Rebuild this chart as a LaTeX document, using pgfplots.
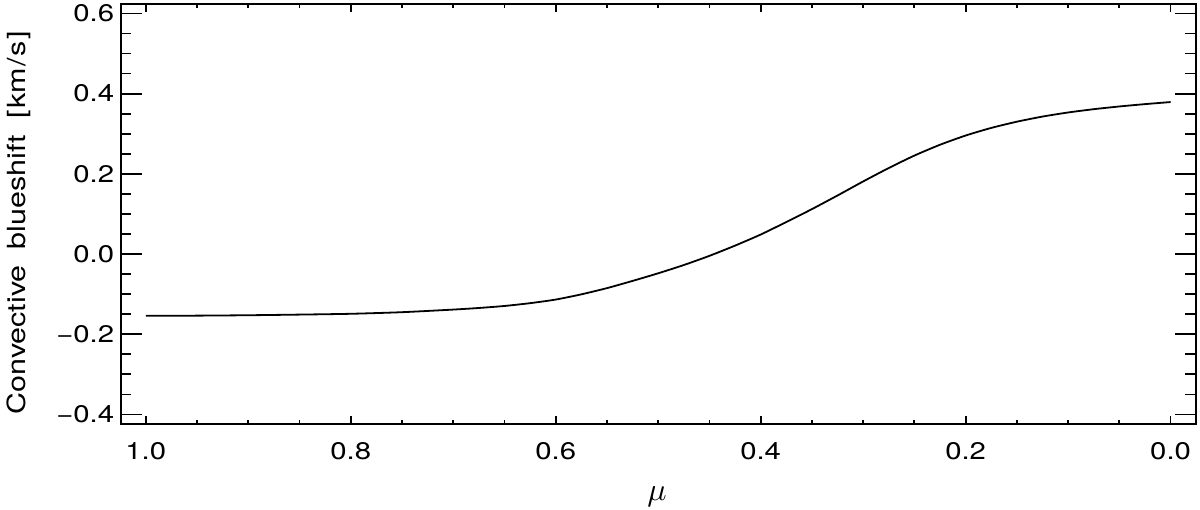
\documentclass[border=0pt]{standalone}
\usepackage{pgfplots}
\pgfplotsset{compat=1.18}
\usepackage{fontspec}
\setmainfont{TeX Gyre Heros}[FakeStretch=1.22]
\begin{document}
\begin{tikzpicture}
\begin{axis}[
  at={(0,0)}, anchor=south west,
  scale only axis,
  width=1075pt, height=420pt,
  x dir=reverse,
  xmin=-0.0245, xmax=1.0245,
  ymin=-0.4238, ymax=0.6235,
  xtick={0,0.2,0.4,0.6,0.8,1.0},
  xticklabels={0.0,0.2,0.4,0.6,0.8,1.0},
  ytick={-0.4,-0.2,0,0.2,0.4,0.6},
  yticklabels={−0.4,−0.2,0.0,0.2,0.4,0.6},
  minor tick num=3,
  tick align=inside,
  xtick pos=both, ytick pos=both,
  axis line style={line width=1.8pt},
  every tick/.style={black, line width=1.8pt},
  xtick style={/pgfplots/major tick length=8pt,/pgfplots/minor tick length=4pt},
  ytick style={/pgfplots/major tick length=21pt,/pgfplots/minor tick length=10.5pt},
  tick label style={font=\fontsize{24}{28}\selectfont},
  xticklabel style={yshift=-15pt},
  yticklabel style={xshift=-3pt},
  every axis x label/.style={at={(axis description cs:0.4989,-0.181)}, anchor=base},
  every axis y label/.style={at={(axis description cs:-0.0890,0.4798)}, rotate=90, anchor=base},
  xlabel={\scalebox{3.2}{$\mu$}},
  ylabel={\fontsize{25}{30}\selectfont Convective\hspace{0.3em} blueshift\hspace{0.3em} [\kern2pt km\kern1.5pt/\kern1.5pt s\kern2pt]},
]
\addplot[black, line width=1.8pt, smooth, tension=0.4] table {
x y
1.00 -0.1540
0.95 -0.1536
0.90 -0.1526
0.85 -0.1510
0.80 -0.1490
0.75 -0.1450
0.70 -0.1385
0.675 -0.1345
0.65 -0.1295
0.625 -0.1225
0.60 -0.1135
0.575 -0.1005
0.55 -0.0850
0.525 -0.0670
0.50 -0.0480
0.475 -0.0274
0.45 -0.0045
0.425 0.0210
0.40 0.0486
0.375 0.0798
0.35 0.1120
0.325 0.1460
0.30 0.1810
0.275 0.2145
0.25 0.2455
0.225 0.2725
0.20 0.2955
0.175 0.3145
0.15 0.3300
0.125 0.3428
0.10 0.3530
0.075 0.3612
0.05 0.3680
0.025 0.3738
0.00 0.3790
};
\end{axis}
\path (-120.7pt,-83pt) rectangle (1079.3pt,424pt);
\end{tikzpicture}
\end{document}
